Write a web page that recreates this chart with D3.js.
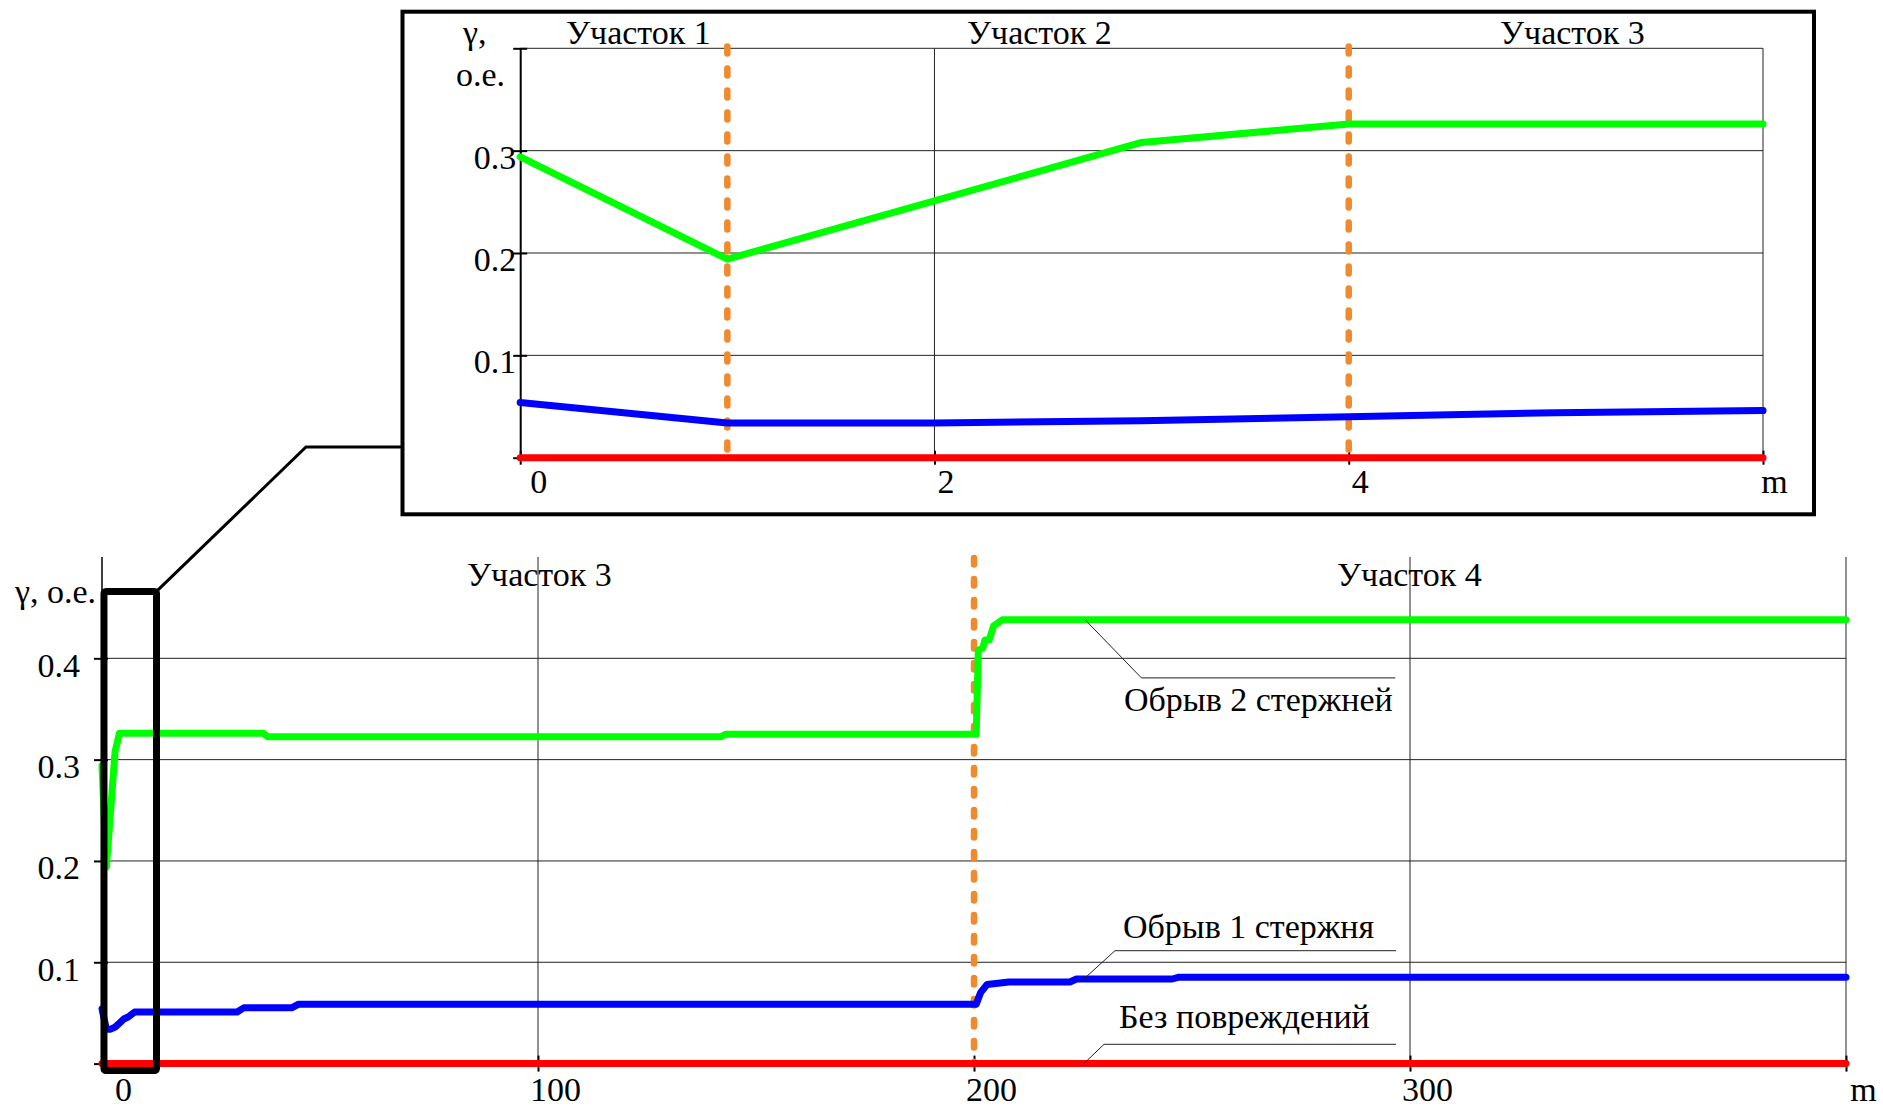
<!DOCTYPE html>
<html><head><meta charset="utf-8">
<script src="https://cdn.jsdelivr.net/npm/d3@7"></script>
<style>
html,body{margin:0;padding:0;background:#fff;}
svg text{font-family:"Liberation Serif","Times New Roman",serif;fill:#000;}
</style></head>
<body><svg id="c" width="1883" height="1109"></svg>
<script>
// ---- data ----
const seriesNames = ["Без повреждений", "Обрыв 1 стержня", "Обрыв 2 стержней"];
const noDamageX = [0, 400];
const noDamageY = [0, 0];
const break1X = [0, 1, 2, 3, 4, 5, 6, 7.5, 31, 32.5, 43.5, 45, 200.5, 201.5, 203, 205, 208, 222, 223.5, 245.5, 247, 400];
const break1Y = [0.054, 0.034, 0.034, 0.036, 0.040, 0.044, 0.046, 0.051, 0.051, 0.055, 0.055, 0.0585, 0.0585, 0.070, 0.078, 0.079, 0.0806, 0.0806, 0.0835, 0.0835, 0.0853, 0.0853];
const break2X = [0, 1, 3, 4, 6, 37, 38, 142, 143, 200.5, 201, 202, 202.5, 203.5, 204.5, 206.5, 400];
const break2Y = [0.294, 0.194, 0.308, 0.326, 0.326, 0.326, 0.3225, 0.3225, 0.325, 0.325, 0.408, 0.410, 0.418, 0.418, 0.432, 0.438, 0.438];
const mainXTicks = [0, 100, 200, 300];
const mainYTicks = [0, 0.1, 0.2, 0.3, 0.4];
const insetXTicks = [0, 2, 4];
const insetYTicks = [0, 0.1, 0.2, 0.3, 0.4];
const mainSectionBounds = [200];
const insetSectionBounds = [1, 4];
const mainSectionLabels = ["Участок 3", "Участок 4"];
const insetSectionLabels = ["Участок 1", "Участок 2", "Участок 3"];
const yTitle = "γ, о.е.";
const xUnit = "m";

const colors = {red: "#ff0000", blue: "#0000ff", green: "#00ff00", orange: "#f08a2c"};
const FS = 34;

const svg = d3.select("#c");
svg.append("rect").attr("width", 1883).attr("height", 1109).attr("fill", "#fff");

function zip(xs, ys) { return xs.map((x, i) => [x, ys[i]]); }
const series = [
  {name: seriesNames[0], pts: zip(noDamageX, noDamageY), color: colors.red},
  {name: seriesNames[1], pts: zip(break1X, break1Y), color: colors.blue},
  {name: seriesNames[2], pts: zip(break2X, break2Y), color: colors.green}
];

// ---------------- MAIN CHART ----------------
const mx = d3.scaleLinear().domain([0, 400]).range([102, 1846]);
const my = d3.scaleLinear().domain([0, 0.5]).range([1063.6, 557]);
const gm = svg.append("g");

// gridlines
gm.selectAll(".hg").data(mainYTicks.filter(d => d > 0)).enter().append("line")
  .attr("x1", mx(0)).attr("x2", mx(400)).attr("y1", d => my(d)).attr("y2", d => my(d))
  .attr("stroke", "#222").attr("stroke-width", 1);
gm.selectAll(".vg").data([100, 300, 400]).enter().append("line")
  .attr("x1", d => mx(d)).attr("x2", d => mx(d)).attr("y1", my(0.5)).attr("y2", my(0))
  .attr("stroke", "#222").attr("stroke-width", 1);

// axes
const myAxis = gm.append("g").attr("transform", `translate(${mx(0)},0)`)
  .call(d3.axisLeft(my).tickValues(mainYTicks).tickSizeOuter(0)
    .tickFormat(d => d === 0 ? "" : d3.format(".1f")(d)));
myAxis.select(".domain").attr("stroke", "#000").attr("stroke-width", 1.5).attr("d", `M0,${my(0.5)}V${my(0)}`);
myAxis.selectAll(".tick line").attr("x1", 6).attr("x2", -8).attr("stroke-width", 2);
myAxis.selectAll(".tick text").attr("x", -22).attr("dy", null).attr("y", 18)
  .style("font-size", FS + "px").style("font-family", "Liberation Serif");

const mxAxis = gm.append("g").attr("transform", `translate(0,${my(0)})`)
  .call(d3.axisBottom(mx).tickValues(mainXTicks.concat([400])).tickSizeOuter(0)
    .tickFormat(d => d === 400 ? xUnit : String(d)));
mxAxis.select(".domain").attr("stroke", "#000").attr("stroke-width", 1.5);
mxAxis.selectAll(".tick line").attr("y1", -8).attr("y2", 8).attr("stroke-width", 2);
mxAxis.selectAll(".tick text").attr("x", d => d === 0 ? 21 : 17).attr("dy", null).attr("y", 37.5)
  .style("font-size", FS + "px").style("font-family", "Liberation Serif");

// section boundary
gm.selectAll(".sb").data(mainSectionBounds).enter().append("line")
  .attr("x1", d => mx(d)).attr("x2", d => mx(d)).attr("y1", my(0.5) + 1).attr("y2", my(0))
  .attr("stroke", colors.orange).attr("stroke-width", 6.5)
  .attr("stroke-dasharray", "6.5 14.5").attr("stroke-linecap", "round");

// series
const lineM = d3.line().x(d => mx(d[0])).y(d => my(d[1]));
gm.selectAll(".s").data(series).enter().append("path")
  .attr("d", d => lineM(d.pts)).attr("fill", "none").attr("stroke", d => d.color)
  .attr("stroke-width", 7).attr("stroke-linejoin", "round").attr("stroke-linecap", "round");

// zoom rectangle
gm.append("rect").attr("x", mx(0.45)).attr("y", my(0.466))
  .attr("width", mx(12.5) - mx(0.45)).attr("height", my(-0.0068) - my(0.466))
  .attr("fill", "none").attr("stroke", "#000").attr("stroke-width", 7).attr("rx", 2);

// connector to inset
svg.append("path").attr("d", `M${mx(12.5)},${my(0.466)} L306,447 L402,447`)
  .attr("fill", "none").attr("stroke", "#000").attr("stroke-width", 3);

// labels
gm.append("text").attr("x", 15).attr("y", 603).style("font-size", FS + "px").text(yTitle);
gm.append("text").attr("x", 467).attr("y", 586).style("font-size", FS + "px").text(mainSectionLabels[0]);
gm.append("text").attr("x", 1337).attr("y", 586).style("font-size", FS + "px").text(mainSectionLabels[1]);

// callouts
const callouts = [
  {s: 2, at: 225.5, elbow: [1141.4, 677.9], end: 1395.3, tx: 1124, ty: 710.5},
  {s: 1, at: 225.2, elbow: [1115, 950.7], end: 1396, tx: 1123, ty: 937.5},
  {s: 0, at: 225.2, elbow: [1104, 1044.3], end: 1396, tx: 1119, ty: 1027.7}
];
callouts.forEach(c => {
  const s = series[c.s];
  const yv = d3.scaleLinear().domain(s.pts.map(p => p[0])).range(s.pts.map(p => p[1]))(c.at);
  gm.append("path").attr("d", `M${mx(c.at)},${my(yv)} L${c.elbow[0]},${c.elbow[1]} L${c.end},${c.elbow[1]}`)
    .attr("fill", "none").attr("stroke", "#222").attr("stroke-width", 1);
  gm.append("text").attr("x", c.tx).attr("y", c.ty).style("font-size", FS + "px").text(s.name);
});

// ---------------- INSET ----------------
const ix = d3.scaleLinear().domain([0, 6]).range([520.2, 1763]);
const iy = d3.scaleLinear().domain([0, 0.4]).range([457.7, 48.3]);
const gi = svg.append("g");
gi.append("rect").attr("x", 402.5).attr("y", 11.7).attr("width", 1814 - 402.5).attr("height", 514.3 - 11.7)
  .attr("fill", "#fff").attr("stroke", "#000").attr("stroke-width", 4);

gi.selectAll(".hg").data(insetYTicks.filter(d => d > 0)).enter().append("line")
  .attr("x1", ix(0)).attr("x2", ix(6)).attr("y1", d => iy(d)).attr("y2", d => iy(d))
  .attr("stroke", "#222").attr("stroke-width", 1);
gi.selectAll(".vg").data([2, 6]).enter().append("line")
  .attr("x1", d => ix(d)).attr("x2", d => ix(d)).attr("y1", iy(0.4)).attr("y2", iy(0))
  .attr("stroke", "#222").attr("stroke-width", 1);

const iyAxis = gi.append("g").attr("transform", `translate(${ix(0)},0)`)
  .call(d3.axisLeft(iy).tickValues(insetYTicks).tickSizeOuter(0)
    .tickFormat(d => (d === 0 || d === 0.4) ? "" : d3.format(".1f")(d)));
iyAxis.select(".domain").attr("stroke", "#000").attr("stroke-width", 2);
iyAxis.selectAll(".tick line").attr("x1", 7).attr("x2", -7).attr("stroke-width", 2);
iyAxis.selectAll(".tick text").attr("x", -4).attr("dy", null).attr("y", 17.6)
  .style("font-size", FS + "px").style("font-family", "Liberation Serif");

const ixAxis = gi.append("g").attr("transform", `translate(0,${iy(0)})`)
  .call(d3.axisBottom(ix).tickValues(insetXTicks.concat([6])).tickSizeOuter(0)
    .tickFormat(d => d === 6 ? xUnit : String(d)));
ixAxis.select(".domain").attr("stroke", "#000").attr("stroke-width", 1.5);
ixAxis.selectAll(".tick line").attr("y1", -7).attr("y2", 7).attr("stroke-width", 2);
ixAxis.selectAll(".tick text").attr("x", d => d === 0 ? 18 : 11).attr("dy", null).attr("y", 35.5)
  .style("font-size", FS + "px").style("font-family", "Liberation Serif");

gi.selectAll(".sb").data(insetSectionBounds).enter().append("line")
  .attr("x1", d => ix(d)).attr("x2", d => ix(d)).attr("y1", 46.5).attr("y2", iy(0) - 6)
  .attr("stroke", colors.orange).attr("stroke-width", 6.5)
  .attr("stroke-dasharray", "7 15").attr("stroke-linecap", "round");

const lineI = d3.line().x(d => ix(d[0])).y(d => iy(d[1]));
gi.selectAll(".s").data(series).enter().append("path")
  .attr("d", d => lineI(d.pts.filter(p => p[0] <= 6).concat(d.pts[0][0] === 0 && d.pts.length === 2 ? [[6, d.pts[1][1]]] : [])))
  .attr("fill", "none").attr("stroke", d => d.color)
  .attr("stroke-width", 7).attr("stroke-linejoin", "round").attr("stroke-linecap", "round");

gi.append("text").attr("x", 463).attr("y", 44).style("font-size", FS + "px").text(yTitle.split(" ")[0]);
gi.append("text").attr("x", 456).attr("y", 86).style("font-size", FS + "px").text(yTitle.split(" ")[1]);
gi.append("text").attr("x", 566).attr("y", 44).style("font-size", FS + "px").text(insetSectionLabels[0]);
gi.append("text").attr("x", 967).attr("y", 43.5).style("font-size", FS + "px").text(insetSectionLabels[1]);
gi.append("text").attr("x", 1500).attr("y", 43.5).style("font-size", FS + "px").text(insetSectionLabels[2]);
</script>
</body></html>
